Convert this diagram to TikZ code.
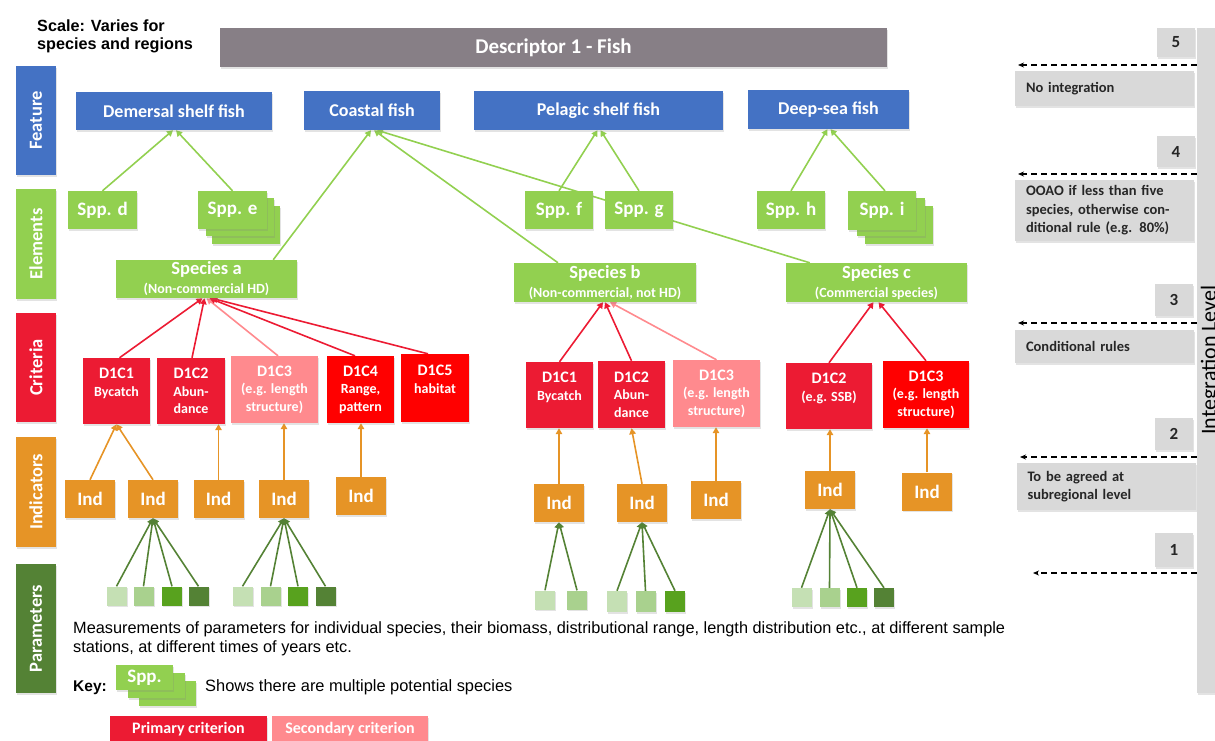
\documentclass[tikz,border=0pt]{standalone}
\usepackage{fontspec}
\setmainfont{Carlito}
\newfontfamily\arialf{Liberation Sans}
\usetikzlibrary{arrows.meta,shadows,backgrounds,calc}
\definecolor{cblue}{HTML}{4472C4}
\definecolor{cgreen}{HTML}{92D050}
\definecolor{cred}{HTML}{EC1B33}
\definecolor{cpure}{HTML}{FF0000}
\definecolor{cpink}{HTML}{FF8A8E}
\definecolor{corange}{HTML}{E69426}
\definecolor{cdkgreen}{HTML}{548235}
\definecolor{cpa}{HTML}{C5E0B4}
\definecolor{cpb}{HTML}{A9D18E}
\definecolor{cpc}{HTML}{58A21E}
\definecolor{cgray}{HTML}{877F86}
\definecolor{clight}{HTML}{D9D9D9}
\definecolor{ctext}{HTML}{262626}
\newcommand\myfs[2]{\fontsize{#1}{#2}\selectfont}
\begin{document}
\begin{tikzpicture}[x=1pt,y=-1pt,
  wh/.style 2 args={minimum width=#1pt,minimum height=#2pt},
  base/.style={inner sep=0pt,align=center,text=white,
    drop shadow={opacity=0.22,shadow xshift=1.2pt,shadow yshift=-1.8pt}},
  side/.style={base,rotate=90,font=\myfs{18.5}{21}\bfseries},
  feat/.style={base,fill=cblue,font=\myfs{18}{21}\bfseries},
  elem/.style={base,fill=cgreen,font=\myfs{19}{21}\bfseries},
  spec/.style={base,fill=cgreen,font=\myfs{18.5}{19}\bfseries},
  crit/.style={base,fill=cred,font=\myfs{16}{17.5}\bfseries},
  ind/.style={base,fill=corange,wh={50}{38},font=\myfs{19}{21}\bfseries},
  psq/.style={base,wh={20}{19}},
  gbox/.style={base,fill=clight,text=ctext},
  numbox/.style={gbox,font=\myfs{17}{20}\bfseries},
  rtxt/.style={gbox,align=left,inner xsep=11pt,text width=157pt,font=\myfs{14.5}{18.5}\bfseries},
  garr/.style={draw=cgreen,line width=1.6pt,-{Triangle[length=6pt,width=6.5pt]}},
  rarr/.style={draw=cred,line width=1.6pt,-{Triangle[length=6pt,width=6.5pt]}},
  parr/.style={draw=cpink,line width=1.6pt,-{Triangle[length=6pt,width=6.5pt]}},
  oarr/.style={draw=corange,line width=1.6pt,-{Triangle[length=6pt,width=6.5pt]}},
  darr/.style={draw=cdkgreen,line width=1.6pt,-{Triangle[length=6pt,width=6.5pt]}},
  dasharr/.style={draw=black,line width=1.2pt,dash pattern=on 6pt off 4pt,-{Stealth[length=6pt,width=5pt]}}
]
\useasboundingbox (0,0) rectangle (1215,740);

% ---- header
\node[anchor=north west,align=left,inner sep=0pt,font=\arialf\bfseries\myfs{16.2}{18.5}] (scale) at (37,19.5) {Scale: Varies for\\species and regions};
\node[base,fill=cgray,wh={667}{39},font=\myfs{21}{24}\bfseries] (desc) at (553.5,47.5) {Descriptor 1 - Fish};

% ---- side labels
\node[side,fill=cblue,wh={109}{40}] (lfeat) at (36,120.5) {Feature};
\node[side,fill=cgreen,wh={110}{40}] (lelem) at (36,244) {Elements};
\node[side,fill=cred,wh={109}{40}] (lcrit) at (36,367.5) {Criteria};
\node[side,fill=corange,wh={110}{40}] (lind) at (36,492) {Indicators};
\node[side,fill=cdkgreen,wh={129}{40}] (lpar) at (36,628.5) {Parameters};

% ---- features
\node[feat,wh={196}{38}] (dem) at (174,111) {Demersal shelf fish};
\node[feat,wh={136}{39}] (coast) at (372,110.5) {Coastal fish};
\node[feat,wh={249}{39}] (pel) at (598.5,110.5) {Pelagic shelf fish};
\node[feat,wh={161}{39}] (deep) at (828.5,109.5) {Deep-sea fish};

% ---- elements
\node[elem,wh={69}{38}] (sppd) at (102.5,210) {Spp. d};
\node[elem,wh={68}{38}] (sppe3) at (245.5,225) {};
\node[elem,wh={68}{38}] (sppe2) at (239.5,217) {};
\node[elem,wh={69}{38}] (sppe) at (232.5,210) {Spp. e};
\node[elem,wh={68}{38}] (sppf) at (559,210) {Spp. f};
\node[elem,wh={68}{38}] (sppg) at (639,210) {Spp. g};
\node[elem,wh={68}{38}] (spph) at (791,210) {Spp. h};
\node[elem,wh={68}{38}] (sppi3) at (899,225) {};
\node[elem,wh={68}{38}] (sppi2) at (891,217) {};
\node[elem,wh={68}{39}] (sppi) at (882,210.5) {Spp. i};

\node[spec,wh={181}{38}] (speca) at (206.5,279) {Species a\\{\myfs{14}{19}\bfseries (Non-commercial HD)}};
\node[spec,wh={182}{39}] (specb) at (605,282.5) {Species b\\{\myfs{14}{19}\bfseries (Non-commercial, not HD)}};
\node[spec,wh={181}{39}] (specc) at (876.5,282.5) {Species c\\{\myfs{14}{19}\bfseries (Commercial species)}};

% ---- criteria
\newcommand\sub[1]{{\myfs{14}{17.5}\bfseries #1}}
\node[crit,wh={67}{66}] (a1) at (116.5,391) {D1C1\\\sub{Bycatch}\\\mbox{}};
\node[crit,wh={68}{66}] (a2) at (191,391) {D1C2\\\sub{Abun-}\\\sub{dance}};
\node[crit,fill=cpink,wh={87}{67}] (a3) at (274.5,389.5) {D1C3\\\sub{(e.g. length}\\\sub{structure)}};
\node[crit,fill=cpure,wh={67}{67}] (a4) at (360.5,389.5) {D1C4\\\sub{Range,}\\\sub{pattern}};
\node[crit,fill=cpure,wh={68}{68}] (a5) at (435,388) {D1C5\\\sub{habitat}\\\mbox{}};
\node[crit,wh={67}{66}] (b1) at (559.5,395) {D1C1\\\sub{Bycatch}\\\mbox{}};
\node[crit,wh={67}{67}] (b2) at (631.5,394.5) {D1C2\\\sub{Abun-}\\\sub{dance}};
\node[crit,fill=cpink,wh={87}{67}] (b3) at (716.5,393.5) {D1C3\\\sub{(e.g. length}\\\sub{structure)}};
\node[crit,wh={86}{66}] (c2) at (829,396) {D1C2\\\sub{(e.g. SSB)}\\\mbox{}};
\node[crit,fill=cpure,wh={86}{67}] (c3) at (926,394.5) {D1C3\\\sub{(e.g. length}\\\sub{structure)}};

% ---- indicators
\node[ind] (i1) at (90,499) {Ind};
\node[ind] (i2) at (153,499) {Ind};
\node[ind] (i3) at (218.5,499) {Ind};
\node[ind] (i4) at (284,499) {Ind};
\node[ind] (i5) at (361,496) {Ind};
\node[ind] (i6) at (559,503) {Ind};
\node[ind] (i7) at (642,503) {Ind};
\node[ind] (i8) at (716,500) {Ind};
\node[ind] (i9) at (830,490) {Ind};
\node[ind] (i10) at (927,491.5) {Ind};

% ---- parameters
\node[psq,fill=cpa] (p1a) at (116.5,596) {};
\node[psq,fill=cpb] (p1b) at (143.5,596) {};
\node[psq,fill=cpc] (p1c) at (172,596) {};
\node[psq,fill=cdkgreen] (p1d) at (198.5,596) {};
\node[psq,fill=cpa] (p2a) at (242.5,596) {};
\node[psq,fill=cpb] (p2b) at (270.5,596) {};
\node[psq,fill=cpc] (p2c) at (298,596) {};
\node[psq,fill=cdkgreen] (p2d) at (325.5,596) {};
\node[psq,fill=cpa] (p3a) at (545,600) {};
\node[psq,fill=cpb] (p3b) at (577,600) {};
\node[psq,fill=cpa,wh={20}{21}] (p4a) at (617,601.5) {};
\node[psq,fill=cpb,wh={20}{21}] (p4b) at (645.5,601.5) {};
\node[psq,fill=cpc,wh={20}{21}] (p4c) at (675,601.5) {};
\node[psq,fill=cpa] (p5a) at (801.5,597.5) {};
\node[psq,fill=cpb] (p5b) at (829.5,597.5) {};
\node[psq,fill=cpc] (p5c) at (857,597.5) {};
\node[psq,fill=cdkgreen] (p5d) at (884,597.5) {};

% ---- texts
\node[anchor=north west,align=left,inner sep=0pt,font=\arialf\myfs{16.3}{19}] (meas) at (73,621) {Measurements of parameters for individual species, their biomass, distributional range, length distribution etc., at different sample\\stations, at different times of years etc.};
\node[anchor=base west,inner sep=0pt,font=\arialf\bfseries\myfs{15.5}{18}] (key) at (73,691) {Key:};
\node[elem,wh={57}{25}] (k3) at (167.5,693.5) {};
\node[elem,wh={57}{25}] (k2) at (156,685.5) {};
\node[elem,wh={57}{25}] (k1) at (144.5,677.5) {Spp.};
\node[anchor=base west,inner sep=0pt,font=\arialf\myfs{16.4}{18}] (keytxt) at (205,691) {Shows there are multiple potential species};
\node[base,fill=cred,wh={157}{26},font=\myfs{16}{18}\bfseries] (prim) at (188.5,729) {Primary criterion};
\node[base,fill=cpink,wh={156}{26},font=\myfs{16}{18}\bfseries] (sec) at (350,729) {Secondary criterion};

% ---- right panel
\node[gbox,wh={45}{665}] (bar) at (1219.5,360.5) {};
\node[rotate=90,anchor=base,inner sep=0pt,font=\myfs{22}{24},text=black] (intl) at (1216,360) {Integration Level};
\node[numbox,wh={38}{29}] (n5) at (1176,42.5) {5};
\node[numbox,wh={38}{31}] (n4) at (1176,151.5) {4};
\node[numbox,wh={38}{32}] (n3) at (1174,300) {3};
\node[numbox,wh={38}{32}] (n2) at (1174,434) {2};
\node[numbox,wh={38}{34}] (n1) at (1174,550) {1};
\node[rtxt,wh={179}{35}] (t5) at (1104.5,88.5) {No integration};
\node[rtxt,wh={179}{61}] (t4) at (1104.5,210.5) {OOAO if less than five\\species, otherwise con-\\ditional rule (e.g. 80\%)};
\node[rtxt,wh={179}{33}] (t3) at (1104.5,346.5) {Conditional rules};
\node[rtxt,wh={179}{47}] (t2) at (1106,486.5) {To be agreed at\\subregional level};
\coordinate (e5) at (1018,65);
\coordinate (e4) at (1018,174);
\coordinate (e3) at (1018,323);
\coordinate (e2) at (1020,457);
\coordinate (e1) at (1033,573);
\foreach \e in {e5,e4,e3,e2,e1} {\draw[dasharr] (\e -| bar.west) -- (\e);}

% ---- connectors
\begin{scope}[on background layer]
\draw[garr] (sppd.north) -- ($(dem.south)+(-1,0)$);
\draw[garr] (sppe.north) -- ($(dem.south)+(2,0)$);
\draw[garr] ($(speca.north east)+(-24,0)$) -- ($(coast.south)+(-1,0)$);
\draw[garr] ($(specb.north)+(-47,0)$) -- ($(coast.south)+(2,0)$);
\draw[garr] ($(specc.north west)+(24,0)$) -- ($(coast.south)+(5,0)$);
\draw[garr] (sppf.north) -- ($(pel.south)+(-1,0)$);
\draw[garr] (sppg.north) -- ($(pel.south)+(2,0)$);
\draw[garr] (spph.north) -- ($(deep.south)+(-1,0)$);
\draw[garr] ($(sppi.north)+(3,0)$) -- ($(deep.south)+(2,0)$);

\draw[rarr] ($(a1.north)+(3,0)$) -- ($(speca.south)+(-4,0)$);
\draw[rarr] ($(a2.north)+(1,0)$) -- ($(speca.south)+(-2,0)$);
\draw[parr] ($(a3.north)+(3.5,0)$) -- (speca.south);
\draw[rarr] ($(a4.north)+(-5.5,0)$) -- ($(speca.south)+(3,0)$);
\draw[rarr] ($(a5.north)+(-7,0)$) -- ($(speca.south)+(5,0)$);
\draw[rarr] (b1.north) -- ($(specb.south)+(-2,0)$);
\draw[rarr] (b2.north) -- (specb.south);
\draw[parr] (b3.north) -- ($(specb.south)+(5,0)$);
\draw[rarr] (c2.north) -- ($(specc.south)+(-3,0)$);
\draw[rarr] (c3.north) -- ($(specc.south)+(2,0)$);

\draw[oarr] (i1.north) -- (a1.south);
\draw[oarr] (i2.north) -- (a1.south);
\draw[oarr] (i3.north) -- (a2.south -| i3.north);
\draw[oarr] (i4.north) -- (a3.south -| i4.north);
\draw[oarr] (i5.north) -- (a4.south -| i5.north);
\draw[oarr] (i6.north) -- (b1.south -| i6.north);
\draw[oarr] (i7.north) -- (b2.south);
\draw[oarr] (i8.north) -- (b3.south -| i8.north);
\draw[oarr] (i9.north) -- (c2.south -| i9.north);
\draw[oarr] (i10.north) -- (c3.south -| i10.north);

\foreach \p in {p1a,p1b,p1c,p1d} {\draw[darr] (\p.north) -- (i2.south);}
\foreach \p in {p2a,p2b,p2c,p2d} {\draw[darr] (\p.north) -- (i4.south);}
\foreach \p in {p3a,p3b} {\draw[darr] (\p.north) -- (i6.south);}
\foreach \p in {p4a,p4b,p4c} {\draw[darr] (\p.north) -- (i7.south);}
\foreach \p in {p5a,p5b,p5c,p5d} {\draw[darr] (\p.north) -- (i9.south);}
\end{scope}
\end{tikzpicture}
\end{document}
